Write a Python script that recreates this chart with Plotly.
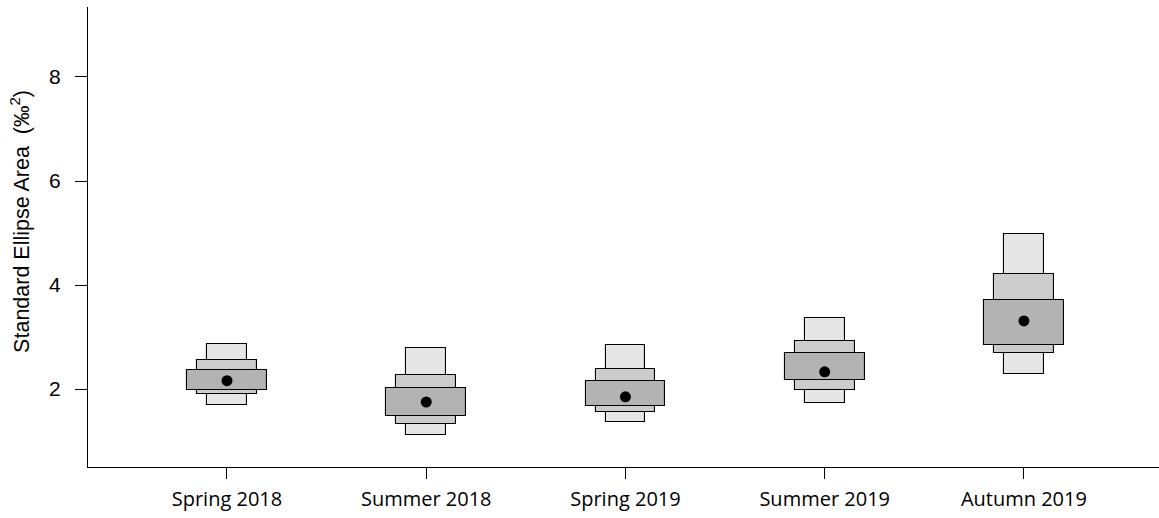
import plotly.graph_objects as go

# Seasonal groups on the x axis
groups = ["Spring 2018", "Summer 2018", "Spring 2019", "Summer 2019", "Autumn 2019"]
group_pos = [1, 2, 3, 4, 5]

# Posterior mode of the standard ellipse area (per mil squared)
sea_mode = [2.16, 1.75, 1.85, 2.33, 3.31]

# Credible intervals: 95 % (outer), 75 % (middle), 50 % (inner)
ci95_low = [1.70, 1.12, 1.36, 1.74, 2.29]
ci95_high = [2.86, 2.79, 2.85, 3.37, 4.98]
ci75_low = [1.90, 1.33, 1.55, 1.99, 2.69]
ci75_high = [2.56, 2.26, 2.38, 2.92, 4.21]
ci50_low = [1.98, 1.48, 1.68, 2.17, 2.84]
ci50_high = [2.37, 2.01, 2.16, 2.70, 3.72]

y_ticks = [2, 4, 6, 8]

bands = [
    (ci95_low, ci95_high, 0.20, "#e6e6e6", "95%"),
    (ci75_low, ci75_high, 0.30, "#cccccc", "75%"),
    (ci50_low, ci50_high, 0.40, "#b3b3b3", "50%"),
]

fig = go.Figure()

for low, high, w, color, name in bands:
    fig.add_trace(go.Bar(
        x=group_pos,
        base=low,
        y=[h - l for l, h in zip(low, high)],
        width=w,
        marker=dict(color=color, line=dict(color="black", width=1.1)),
        name=name,
        showlegend=False,
        hoverinfo="skip",
    ))

fig.add_trace(go.Scatter(
    x=group_pos,
    y=sea_mode,
    mode="markers",
    marker=dict(color="black", size=11),
    showlegend=False,
))

fig.update_layout(
    width=1159,
    height=518,
    margin=dict(l=88, r=0, t=7, b=51),
    plot_bgcolor="white",
    paper_bgcolor="white",
    barmode="overlay",
    bargap=0,
)

# Y-axis title as a rotated annotation
fig.add_annotation(
    text="Standard Ellipse Area\u00a0\u00a0(‰<sup>2</sup>)",
    xref="paper", yref="paper",
    x=-0.0635, y=0.535,
    xanchor="center", yanchor="middle",
    textangle=-90,
    showarrow=False,
    font=dict(family="Liberation Sans, Arial", size=21.5, color="black"),
)

fig.update_xaxes(
    range=[0.3024, 5.678],
    tickmode="array",
    tickvals=group_pos,
    ticktext=groups,
    ticks="outside",
    ticklen=11,
    tickwidth=1,
    tickcolor="black",
    showline=True,
    linecolor="black",
    linewidth=1,
    showgrid=False,
    zeroline=False,
    ticklabelstandoff=3,
    tickfont=dict(family="Open Sans", size=20, color="black"),
)

fig.update_yaxes(
    range=[0.5, 9.346],
    tickmode="array",
    tickvals=y_ticks,
    ticks="outside",
    ticklen=12,
    tickwidth=1,
    tickcolor="black",
    showline=True,
    linecolor="black",
    linewidth=1,
    showgrid=False,
    zeroline=False,
    ticklabelstandoff=10,
    tickfont=dict(family="Liberation Sans, Arial", size=21, color="black"),
)

fig.write_html("out.html")
